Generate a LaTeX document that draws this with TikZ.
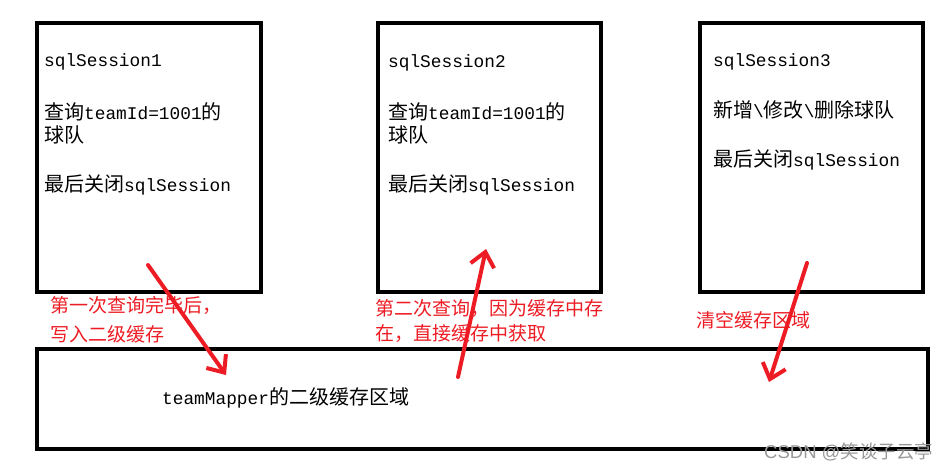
\documentclass[tikz,border=0pt]{standalone}
\usepackage{fontspec}
\setmainfont{Liberation Mono}
\newfontfamily\cjk{Noto Sans CJK SC}
\newfontfamily\wmsans{Liberation Sans}
\usetikzlibrary{arrows.meta}
\definecolor{paintred}{RGB}{237,28,36}
\newcommand\zh[1]{{\cjk\fontsize{20}{24}\selectfont #1}}
\tikzset{
  box/.style={draw=black, line width=4pt, inner sep=0pt, anchor=north west},
  txt/.style={anchor=west, inner sep=0pt, font=\fontsize{17.8}{22}\selectfont},
  redtxt/.style={anchor=west, inner sep=0pt, text=paintred, align=left, font=\cjk\fontsize{19}{25}\selectfont},
  redarrow/.style={draw=paintred, line width=4pt, line cap=round, line join=round,
    -{Straight Barb[length=14pt, width=24pt, line width=4pt]}},
  wm/.style={anchor=west, inner sep=0pt, text=black!40, font=\wmsans\fontsize{18.5}{20}\selectfont}
}
\begin{document}
\begin{tikzpicture}[x=1pt, y=-1pt]
\useasboundingbox (0,0) rectangle (950,473);
% boxes
\node[box, minimum width=223.5, minimum height=269] (s1) at (35,21) {};
\node[box, minimum width=223, minimum height=269] (s2) at (376,21) {};
\node[box, minimum width=222.5, minimum height=269] (s3) at (698,21) {};
\node[box, minimum width=890.5, minimum height=100] (cache) at (35,347) {};
% box 1 text
\node[txt] (t11) at (44,62) {sqlSession1};
\node[txt] (t12) at (44,112) {\zh{查询}teamId=1001\zh{的}};
\node[txt] (t13) at (44,135) {\zh{球队}};
\node[txt] (t14) at (44,185) {\zh{最后关闭}sqlSession};
% box 2 text
\node[txt] (t21) at (388,63) {sqlSession2};
\node[txt] (t22) at (388,112) {\zh{查询}teamId=1001\zh{的}};
\node[txt] (t23) at (388,135) {\zh{球队}};
\node[txt] (t24) at (388,185) {\zh{最后关闭}sqlSession};
% box 3 text
\node[txt] (t31) at (713,62) {sqlSession3};
\node[txt] (t32) at (713,110) {\zh{新增}\textbackslash\zh{修改}\textbackslash\zh{删除球队}};
\node[txt] (t33) at (713,160) {\zh{最后关闭}sqlSession};
% cache text
\node[txt] (tc) at (162,398) {teamMapper\zh{的二级缓存区域}};
% red labels
\node[redtxt, font=\cjk\fontsize{19}{29}\selectfont] (l1) at (50,320) {第一次查询完毕后，\\写入二级缓存};
\node[redtxt] (l2) at (375,320.5) {第二次查询，因为缓存中存\\在，直接缓存中获取};
\node[redtxt] (l3) at (696,320) {清空缓存区域};
% arrows
\coordinate (a1s) at (148,265);
\coordinate (a1e) at (226,375);
\coordinate (a2s) at (458,377);
\coordinate (a2e) at (486,249);
\coordinate (a3s) at (807,263);
\coordinate (a3e) at (769,382);
\draw[redarrow] (a1s) -- (a1e);
\draw[redarrow] (a2s) -- (a2e);
\draw[redarrow] (a3s) -- (a3e);
% watermark
\node[wm] (wmk) at (764,452) {CSDN @{\cjk 笑谈子云亭}};
\end{tikzpicture}
\end{document}
